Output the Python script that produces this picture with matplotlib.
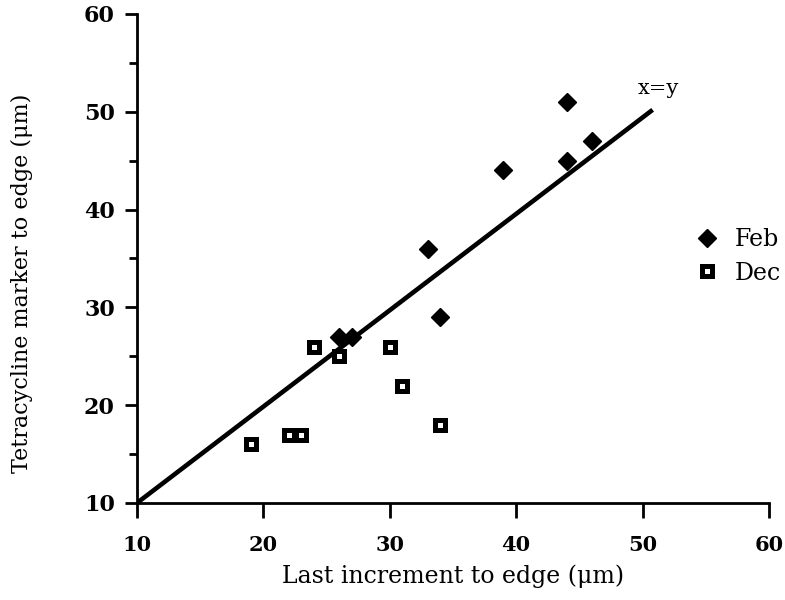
import numpy as np
import matplotlib.pyplot as plt
from matplotlib.lines import Line2D

# February samples (filled diamonds)
feb_x = [26, 27, 33, 34, 39, 44, 44, 46]
feb_y = [27, 27, 36, 29, 44, 45, 51, 47]

# December samples (open squares)
dec_x = [19, 22, 23, 24, 26, 30, 31, 34]
dec_y = [16, 17, 17, 26, 25, 26, 22, 18]

# x=y reference line
line_x = [10, 50.8]
line_y = [10, 50.2]

xticks = [10, 20, 30, 40, 50, 60]
yticks = [10, 20, 30, 40, 50, 60]

plt.rcParams['font.family'] = ['DejaVu Serif']

fig = plt.figure(figsize=(7.85, 6), dpi=100)
ax = fig.add_axes([0.1745, 0.1617, 0.805, 0.815])

ax.plot(line_x, line_y, color='black', lw=3.3, solid_capstyle='butt', zorder=2)
ax.plot(feb_x, feb_y, 'D', color='black', ms=9, zorder=3, clip_on=False)
ax.plot(dec_x, dec_y, 's', mfc='white', mec='black', ms=7.5, mew=3.6,
        zorder=3, clip_on=False)

ax.text(49.6, 51.4, 'x=y', fontsize=15, ha='left', va='bottom')

ax.set_xlim(10, 60)
ax.set_ylim(10, 60)
ax.set_xticks(xticks)
ax.set_yticks(yticks)
ax.set_yticks(np.arange(15, 60, 10), minor=True)

for s in ['top', 'right']:
    ax.spines[s].set_visible(False)
for s in ['left', 'bottom']:
    ax.spines[s].set_linewidth(2)

ax.tick_params(axis='x', direction='out', length=11, width=2, pad=12, labelsize=15)
ax.tick_params(axis='y', which='major', direction='out', length=9, width=2, pad=7,
               labelsize=16)
ax.tick_params(axis='y', which='minor', direction='out', length=6, width=2)
for lab in ax.get_xticklabels() + ax.get_yticklabels():
    lab.set_fontweight('bold')

ax.set_xlabel('Last increment to edge (\u03bcm)', fontsize=17, labelpad=7)
ax.set_ylabel('Tetracycline marker to edge (\u03bcm)', fontsize=16)
ax.yaxis.set_label_coords(-0.165, 0.45)

handles = [
    Line2D([], [], marker='D', color='black', ls='none', ms=9),
    Line2D([], [], marker='s', mfc='white', mec='black', ls='none', ms=7.5, mew=3.6),
]
fig.legend(handles, ['Feb', 'Dec'], loc='center left',
           bbox_to_anchor=(0.87, 0.573), frameon=False, fontsize=17,
           handletextpad=0.7, labelspacing=0.45, handlelength=1.0,
           borderpad=0)

fig.savefig('out.png', dpi=100)
